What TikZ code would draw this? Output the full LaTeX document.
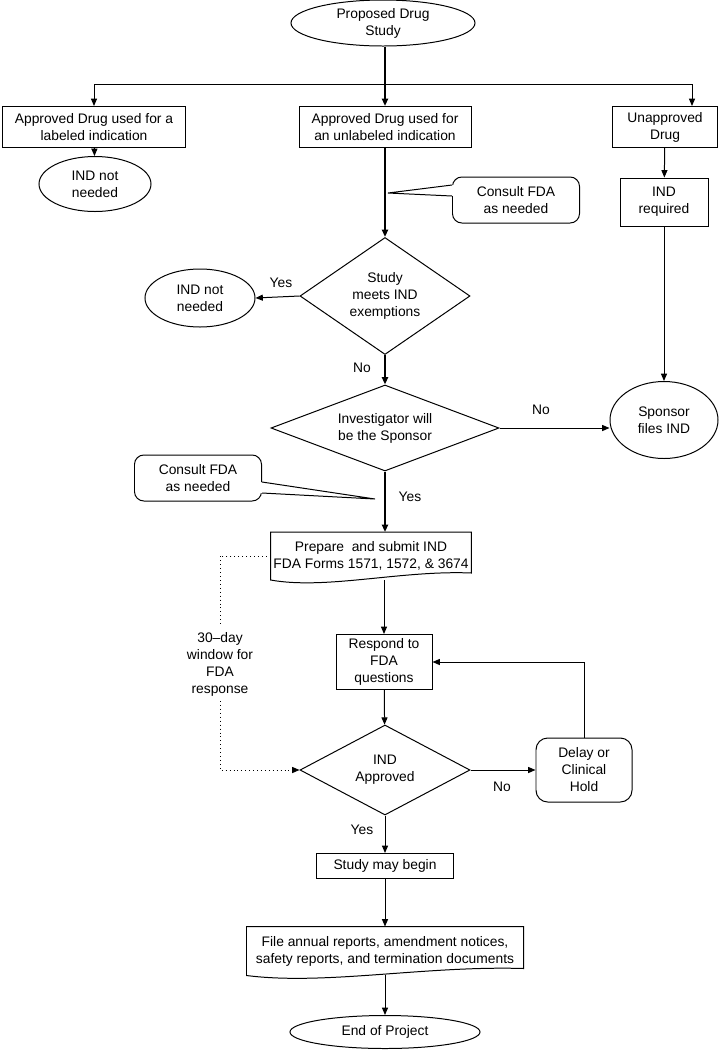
\documentclass[tikz,border=0pt]{standalone}
\usepackage{fontspec}
\setmainfont{Liberation Sans}
\usetikzlibrary{arrows.meta,shapes.geometric,calc}

\begin{document}
\begin{tikzpicture}[x=0.03cm,y=-0.03cm,line width=0.85pt,>={Triangle[length=2.2mm,width=1.8mm]},
  every node/.style={font=\fontsize{11.8}{14.5}\selectfont,align=center},
  box/.style={draw,inner sep=2pt},
  term/.style={draw,ellipse,inner sep=0pt},
  decision/.style={draw,diamond,inner sep=0pt},
  note/.style={draw,rounded corners=8pt,fill=white},
  doc/.style={inner sep=2pt},
  trunk/.style={->,line width=1.7pt},
  flow/.style={->},
  window/.style={dash pattern=on 0.85pt off 2.5pt,line width=0.85pt}]
  \useasboundingbox (0,0) rectangle (720,1050);
  % top of the chart
  \node[term,minimum width=5.52cm,minimum height=1.38cm] (start) at (383,23) {Proposed Drug\\Study};
  \coordinate (split) at (385,84);
  \node[box,minimum width=5.49cm,minimum height=1.23cm] (lab) at (94,127) {Approved Drug used for a\\labeled indication};
  \node[box,minimum width=5.16cm,minimum height=1.23cm] (unlab) at (385,127) {Approved Drug used for\\an unlabeled indication};
  \node[box,minimum width=3.15cm,minimum height=1.23cm] (unapp) at (665,127) {Unapproved\\Drug};
  \node[term,minimum width=3.36cm,minimum height=1.65cm] (notneedA) at (95,184) {IND not\\needed};
  \node[box,minimum width=2.64cm,minimum height=1.44cm] (req) at (664,202) {IND\\required};
  \node[note,minimum width=3.81cm,minimum height=1.38cm] (consultA) at (516,200) {Consult FDA\\as needed};
  % exemption and sponsor questions
  \node[decision,aspect=1.45,minimum width=5.1cm,minimum height=3.51cm] (exempt) at (385,296) {Study\\meets IND\\exemptions};
  \node[term,minimum width=3.3cm,minimum height=1.74cm] (notneedB) at (200,298) {IND not\\needed};
  \node[decision,aspect=2.6,minimum width=6.84cm,minimum height=2.58cm] (sponsorQ) at (385,428) {Investigator will\\be the Sponsor};
  \node[term,minimum width=3.24cm,minimum height=2.31cm] (files) at (664,420) {Sponsor\\files IND};
  \node[note,minimum width=3.81cm,minimum height=1.38cm] (consultB) at (198,478) {Consult FDA\\as needed};
  % submission and review
  \node[doc,minimum width=5.97cm,minimum height=1.41cm] (submit) at (371,556) {Prepare~ and submit IND\\FDA Forms 1571, 1572, \& 3674};
  \node[inner sep=4pt] (window) at (220,664) {30–day\\window for\\FDA\\response};
  \node[box,minimum width=2.88cm,minimum height=1.65cm] (respond) at (384,662) {Respond to\\FDA\\questions};
  \node[decision,aspect=1.9,minimum width=5.1cm,minimum height=2.7cm] (approved) at (385,770) {IND\\Approved};
  \node[draw,rounded corners=10pt,minimum width=2.88cm,minimum height=1.92cm] (hold) at (584,770) {Delay or\\Clinical\\Hold};
  \node[box,minimum width=4.11cm,minimum height=0.75cm] (begin) at (385,866) {Study may begin};
  \node[doc,minimum width=8.28cm,minimum height=1.44cm] (reports) at (385,951) {File annual reports, amendment notices,\\safety reports, and termination documents};
  \node[term,minimum width=5.7cm,minimum height=0.99cm] (finish) at (385,1032) {End of Project};
  % document outlines
  \draw (submit.north west) -- (submit.north east) -- ($(submit.south east)+(0,-7)$)
    .. controls ($(submit.south)+(30,-10)$) and ($(submit.south)+(-45,10)$) .. (submit.south west) -- cycle;
  \draw (reports.north west) -- (reports.north east) -- ($(reports.south east)+(0,-7)$)
    .. controls ($(reports.south)+(40,-10)$) and ($(reports.south)+(-60,10)$) .. (reports.south west) -- cycle;
  % callout pointers
  \coordinate (tipA) at (388,193);
  \coordinate (tipB) at (375,499);
  \fill[white] ($(consultA.west)+(2,-15)$) -- (tipA) -- ($(consultA.west)+(2,-4)$) -- cycle;
  \draw ($(consultA.west)+(0,-15)$) -- (tipA) -- ($(consultA.west)+(0,-4)$);
  \fill[white] ($(consultB.east)+(-2,4)$) -- (tipB) -- ($(consultB.east)+(-2,15)$) -- cycle;
  \draw ($(consultB.east)+(0,4)$) -- (tipB) -- ($(consultB.east)+(0,15)$);
  % connectors
  \draw[trunk] (start.south -| unlab.north) -- (unlab.north);
  \draw[flow] (split) -| (lab.north);
  \draw[flow] (split) -| ([xshift=0.81cm]unapp.north);
  \draw[flow] (lab) -- (notneedA);
  \draw[flow] (unapp) -- (req);
  \draw[flow] (req) -- (req.south |- files.north);
  \draw[trunk] (unlab) -- (exempt);
  \draw[flow] (exempt.west) -- (notneedB.east);
  \node (yesA) at (281,283) {Yes};
  \draw[trunk] (exempt.south) -- (sponsorQ.north);
  \node (noA) at (362,368) {No};
  \draw[flow] (sponsorQ.east) -- (sponsorQ.east -| files.west);
  \node (noB) at (541,410) {No};
  \draw[trunk] (sponsorQ.south) -- (sponsorQ.south |- submit.north);
  \node (yesB) at (410,497) {Yes};
  \draw[flow] (respond.north |- submit.south) -- (respond.north);
  \draw[window] (submit.west) -| (window.north);
  \draw[window,->] (window.south) |- (approved.west);
  \draw[flow] (respond) -- (approved);
  \draw[flow] (approved.east) -- (hold.west);
  \node (noC) at (502,787) {No};
  \draw[flow] (hold.north) |- (respond.east);
  \draw[flow] (approved.south) -- (begin.north);
  \node (yesC) at (362,830) {Yes};
  \draw[flow] (begin) -- (reports);
  \draw[flow] ($(reports.south)+(0,-1)$) -- (finish.north);
\end{tikzpicture}
\end{document}
